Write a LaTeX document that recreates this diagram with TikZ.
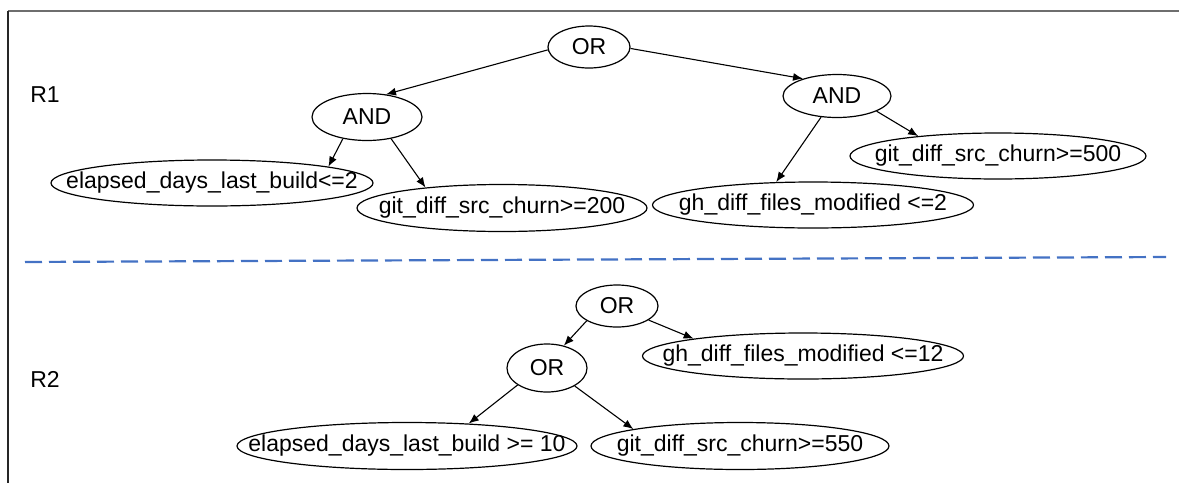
\documentclass[tikz,border=0pt]{standalone}
\usepackage{fontspec}
\setmainfont{Liberation Sans}
\usetikzlibrary{arrows.meta,shapes.geometric}
\definecolor{dashblue}{RGB}{68,114,196}
\definecolor{framegray}{RGB}{110,110,110}
\begin{document}
\begin{tikzpicture}[x=1pt,y=-1pt,
  oval/.style={ellipse, draw, line width=1.2pt, inner sep=0pt},
  txt/.style={font=\fontsize{23}{27}\selectfont, inner sep=0pt},
  arr/.style={-{Latex[length=10pt,width=8pt]}, line width=1.1pt}]
\useasboundingbox (0,0) rectangle (1179,483);
% frame
\coordinate (ftl) at (8,10.5);
\coordinate (ftr) at (1179,10.5);
\coordinate (fbl) at (8,483);
\draw[framegray, line width=2pt] (ftl) -- (ftr);
\draw[black!85, line width=2pt] (ftl) -- (fbl);
% section labels
\node[txt] (r1) at (45,95) {R1};
\node[txt] (r2) at (45,379) {R2};
% divider
\coordinate (dl) at (25,262);
\coordinate (dr) at (1166,257);
\draw[dashblue, line width=2.2pt, dash pattern=on 17pt off 7pt] (dl) -- (dr);
% R1 nodes
\node[oval, minimum width=82pt, minimum height=42pt, label={[txt]center:OR}] (or1) at (589,47) {};
\node[oval, minimum width=110pt, minimum height=47pt, label={[txt]center:AND}] (andl) at (367,117) {};
\node[oval, minimum width=108pt, minimum height=43pt, label={[txt]center:AND}] (andr) at (837,96) {};
\node[oval, minimum width=322pt, minimum height=46pt, label={[txt]center:elapsed\_days\_last\_build<=2}] (e2) at (212,183) {};
\node[oval, minimum width=290pt, minimum height=47pt, label={[txt]center:git\_diff\_src\_churn>=200}] (g200) at (502,208) {};
\node[oval, minimum width=321pt, minimum height=46pt, label={[txt]center:gh\_diff\_files\_modified <=2}] (gh2) at (813,205) {};
\node[oval, minimum width=296pt, minimum height=46pt, label={[txt]center:git\_diff\_src\_churn>=500}] (g500) at (998,156) {};
% R2 nodes
\node[oval, minimum width=82pt, minimum height=42pt, label={[txt]center:OR}] (or2) at (617,306) {};
\node[oval, minimum width=80pt, minimum height=48pt, label={[txt]center:OR}] (or3) at (547,368) {};
\node[oval, minimum width=321pt, minimum height=46pt, label={[txt]center:gh\_diff\_files\_modified <=12}] (gh12) at (803,356) {};
\node[oval, minimum width=340pt, minimum height=47pt, label={[txt]center:elapsed\_days\_last\_build >= 10}] (e10) at (407,446) {};
\node[oval, minimum width=298pt, minimum height=47pt, label={[txt]center:git\_diff\_src\_churn>=550}] (g550) at (740,446) {};
% R1 edges
\draw[arr] (or1.184) -- (andl.50);
\draw[arr] (or1.358) -- (andr.153);
\draw[arr] (andl.222) -- (e2.8);
\draw[arr] (andl.318) -- (g200.165);
\draw[arr] (andr.233) -- (gh2.148);
\draw[arr] (andr.339) -- (g500.166);
% R2 edges
\draw[arr] (or2.206) -- (or3.53);
\draw[arr] (or2.336) -- (gh12.171);
\draw[arr] (or3.210) -- (e10.20);
\draw[arr] (or3.327) -- (g550.171);
\end{tikzpicture}
\end{document}
